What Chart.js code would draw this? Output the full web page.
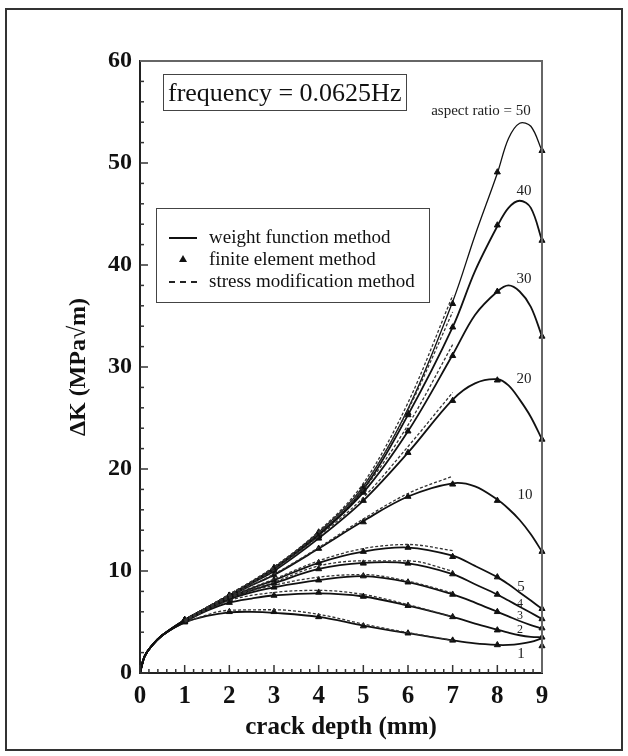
<!DOCTYPE html>
<html>
<head>
<meta charset="utf-8">
<script src="https://cdn.jsdelivr.net/npm/chart.js@4.4.1/dist/chart.umd.min.js"></script>
<style>
html, body { margin: 0; padding: 0; background: #fff; }
#wrap { position: relative; width: 628px; height: 756px; overflow: hidden; }
#frame { position: absolute; left: 5px; top: 8px; width: 614px; height: 739px; border: 2px solid #333; }
#chart { position: absolute; left: 0; top: 0; }
.serif { font-family: 'Liberation Serif', 'Times New Roman', serif; color: #111; }
#freq { position: absolute; left: 163px; top: 74px; width: 238px; height: 35px; border: 1.5px solid #444;
        font-size: 26px; line-height: 35px; padding-left: 4px; white-space: nowrap; }
#legend { position: absolute; left: 156px; top: 208px; width: 272px; height: 93px; border: 1.5px solid #444; }
.row { position: absolute; left: 0; height: 20px; font-size: 19px; line-height: 20px; white-space: nowrap; }
.row span.txt { position: absolute; left: 52px; top: 0; }
.solid { position: absolute; left: 12px; top: 10px; width: 28px; border-top: 2px solid #111; }
.dash { position: absolute; left: 12px; top: 10px; width: 28px; border-top: 2px dashed #222; }
.tri { position: absolute; left: 22px; top: 6px; width: 0; height: 0;
       border-left: 4px solid transparent; border-right: 4px solid transparent; border-bottom: 7px solid #111; }
.ann { position: absolute; transform: translate(-50%, -50%); white-space: nowrap; color: #222; }
</style>
</head>
<body>
<div id="wrap">
  <canvas id="chart" width="628" height="756"></canvas>
  <div id="frame"></div>
  <div id="freq" class="serif">frequency = 0.0625Hz</div>
  <div id="legend" class="serif">
    <div class="row" style="top:18px"><div class="solid"></div><span class="txt">weight function method</span></div>
    <div class="row" style="top:40px"><div class="tri"></div><span class="txt">finite element method</span></div>
    <div class="row" style="top:62px"><div class="dash"></div><span class="txt">stress modification method</span></div>
  </div>
  <div class="ann serif" style="left:481px; top:110px; font-size:15px">aspect ratio = 50</div>
  <div class="ann serif" style="left:524px; top:190px; font-size:15px">40</div>
  <div class="ann serif" style="left:524px; top:278px; font-size:15px">30</div>
  <div class="ann serif" style="left:524px; top:378px; font-size:15px">20</div>
  <div class="ann serif" style="left:525px; top:494px; font-size:15px">10</div>
  <div class="ann serif" style="left:521px; top:586px; font-size:15px">5</div>
  <div class="ann serif" style="left:520px; top:603px; font-size:12px">4</div>
  <div class="ann serif" style="left:520px; top:615px; font-size:12px">3</div>
  <div class="ann serif" style="left:520px; top:629px; font-size:12px">2</div>
  <div class="ann serif" style="left:521px; top:653px; font-size:15px">1</div>
</div>
<script>
// aspect ratios of the cracks
var aspectRatios = [1, 2, 3, 4, 5, 10, 20, 30, 40, 50];

// weight function method (solid curves)
var depthWF = [0, 0.1, 0.25, 0.5, 1, 1.5, 2, 2.5, 3, 4, 5, 6, 7, 7.5, 8, 8.25, 8.5, 8.75, 9];
var wf1  = [0, 1.6, 2.6, 3.7, 4.95, 5.6, 5.95, 6.0, 5.9, 5.5, 4.65, 3.9, 3.2, 2.9, 2.75, 2.75, 2.85, 3.05, 3.4];
var wf2  = [0, 1.6, 2.6, 3.7, 5.0, 6.1, 6.9, 7.3, 7.6, 7.8, 7.5, 6.6, 5.5, 4.85, 4.25, 3.95, 3.7, 3.55, 3.5];
var wf3  = [0, 1.6, 2.6, 3.7, 5.05, 6.2, 7.2, 7.9, 8.4, 9.1, 9.5, 8.9, 7.7, 6.9, 6.0, 5.55, 5.1, 4.7, 4.35];
var wf4  = [0, 1.6, 2.6, 3.7, 5.1, 6.3, 7.3, 8.1, 8.8, 10.2, 10.8, 10.75, 9.7, 8.7, 7.7, 7.1, 6.5, 5.9, 5.3];
var wf5  = [0, 1.6, 2.6, 3.7, 5.1, 6.3, 7.4, 8.3, 9.1, 10.8, 11.9, 12.3, 11.5, 10.5, 9.4, 8.7, 7.9, 7.1, 6.3];
var wf10 = [0, 1.6, 2.6, 3.7, 5.15, 6.35, 7.5, 8.6, 9.6, 12.2, 14.9, 17.3, 18.6, 18.3, 17.0, 16.1, 15.0, 13.6, 11.9];
var wf20 = [0, 1.6, 2.6, 3.7, 5.2, 6.4, 7.6, 8.8, 10.0, 13.2, 16.9, 21.6, 26.8, 28.4, 28.8, 28.2, 26.8, 25.1, 22.9];
var wf30 = [0, 1.6, 2.6, 3.7, 5.2, 6.4, 7.6, 8.9, 10.2, 13.5, 17.7, 23.7, 31.2, 35.1, 37.4, 38.0, 37.4, 35.9, 33.0];
var wf40 = [0, 1.6, 2.6, 3.7, 5.2, 6.4, 7.6, 8.9, 10.3, 13.6, 18.0, 25.3, 33.9, 39.4, 43.8, 45.6, 46.3, 45.6, 42.4];
var wf50 = [0, 1.6, 2.6, 3.7, 5.2, 6.4, 7.6, 8.9, 10.3, 13.8, 18.3, 25.9, 36.4, 42.9, 49.0, 52.4, 53.9, 53.6, 51.2];

// finite element method (triangles)
var depthFE = [1, 2, 3, 4, 5, 6, 7, 8, 9];
var fe1  = [5.0, 6.0, 6.0, 5.5, 4.6, 3.9, 3.2, 2.75, 2.65];
var fe2  = [5.0, 6.9, 7.6, 7.9, 7.5, 6.6, 5.5, 4.2, 3.5];
var fe3  = [5.05, 7.2, 8.4, 9.1, 9.5, 8.9, 7.7, 6.0, 4.4];
var fe4  = [5.1, 7.3, 8.8, 10.2, 10.75, 10.75, 9.7, 7.7, 5.3];
var fe5  = [5.1, 7.4, 9.1, 10.8, 11.9, 12.3, 11.4, 9.4, 6.3];
var fe10 = [5.15, 7.5, 9.6, 12.2, 14.8, 17.3, 18.5, 16.9, 11.9];
var fe20 = [5.2, 7.6, 10.0, 13.2, 16.9, 21.6, 26.7, 28.7, 22.9];
var fe30 = [5.2, 7.6, 10.2, 13.4, 17.7, 23.7, 31.1, 37.4, 33.0];
var fe40 = [5.2, 7.6, 10.3, 13.6, 18.0, 25.3, 33.9, 43.9, 42.4];
var fe50 = [5.2, 7.6, 10.3, 13.8, 18.2, 25.5, 36.2, 49.1, 51.2];

// stress modification method (dashed)
var depthSM = [1, 2, 3, 4, 5, 6, 7];
var sm1  = [5.0, 6.15, 6.2, 5.75, 4.8, 3.95, 3.2];
var sm2  = [5.1, 7.1, 7.9, 8.1, 7.7, 6.7, 5.5];
var sm3  = [5.1, 7.35, 8.6, 9.4, 9.65, 9.0, 7.85];
var sm4  = [5.1, 7.4, 8.9, 10.5, 11.0, 11.0, 10.0];
var sm5  = [5.2, 7.5, 9.2, 11.0, 12.2, 12.6, 12.0];
var sm10 = [5.2, 7.6, 9.7, 12.3, 15.1, 17.6, 19.3];
var sm20 = [5.2, 7.7, 10.1, 13.4, 17.2, 22.2, 27.5];
var sm30 = [5.2, 7.7, 10.3, 13.7, 18.0, 24.3, 32.2];
var sm40 = [5.2, 7.7, 10.4, 13.8, 18.3, 25.8, 35.4];
var sm50 = [5.2, 7.7, 10.4, 13.9, 18.6, 26.5, 37.0];

var wfSeries = [wf1, wf2, wf3, wf4, wf5, wf10, wf20, wf30, wf40, wf50];
var feSeries = [fe1, fe2, fe3, fe4, fe5, fe10, fe20, fe30, fe40, fe50];
var smSeries = [sm1, sm2, sm3, sm4, sm5, sm10, sm20, sm30, sm40, sm50];

function toPoints(xs, ys) {
    return xs.map(function (x, i) { return { x: x, y: ys[i] }; });
}

var datasets = [];
for (var i = 0; i < aspectRatios.length; i++) {
    datasets.push({
        label: 'dashed ' + aspectRatios[i],
        data: toPoints(depthSM, smSeries[i]),
        borderColor: '#333',
        borderWidth: 1.3,
        borderDash: [3, 2],
        pointRadius: 0,
        cubicInterpolationMode: 'monotone',
        fill: false
    });
}
for (var i = 0; i < aspectRatios.length; i++) {
    datasets.push({
        label: 'weight ' + aspectRatios[i],
        data: toPoints(depthWF, wfSeries[i]),
        borderColor: '#111',
        borderWidth: aspectRatios[i] == 50 ? 1.3 : 1.8,
        pointRadius: 0,
        tension: 0.35,
        fill: false
    });
}
for (var i = 0; i < aspectRatios.length; i++) {
    datasets.push({
        label: 'fem ' + aspectRatios[i],
        data: toPoints(depthFE, feSeries[i]),
        showLine: false,
        pointStyle: 'triangle',
        pointRadius: 3.5,
        pointBackgroundColor: '#111',
        pointBorderColor: '#111',
        pointBorderWidth: 1,
        clip: false
    });
}

// ticks pointing into the plot plus the top/right frame
var innerTicks = {
    id: 'innerTicks',
    afterDatasetsDraw: function (chart) {
        var ctx = chart.ctx, a = chart.chartArea;
        var xs = chart.scales.x, ys = chart.scales.y;
        ctx.save();
        ctx.strokeStyle = '#333';
        ctx.lineWidth = 1.5;
        for (var v = 0; v <= 60; v += 2) {
            var py = ys.getPixelForValue(v);
            var len = v % 10 === 0 ? 8 : 4;
            ctx.beginPath(); ctx.moveTo(a.left, py); ctx.lineTo(a.left + len, py); ctx.stroke();
        }
        for (var k = 0; k <= 45; k++) {
            var px = xs.getPixelForValue(k / 5);
            var l2 = k % 5 === 0 ? 8 : 4;
            ctx.beginPath(); ctx.moveTo(px, a.bottom); ctx.lineTo(px, a.bottom - l2); ctx.stroke();
        }
        ctx.strokeStyle = '#666';
        ctx.lineWidth = 2;
        ctx.beginPath();
        ctx.moveTo(a.left, a.top); ctx.lineTo(a.right, a.top); ctx.lineTo(a.right, a.bottom);
        ctx.stroke();
        ctx.restore();
    }
};

var ctx = document.getElementById('chart').getContext('2d');
new Chart(ctx, {
    type: 'line',
    data: { datasets: datasets },
    options: {
        responsive: false,
        animation: false,
        layout: { padding: { left: 40, right: 86, top: 61, bottom: 13 } },
        plugins: { legend: { display: false }, tooltip: { enabled: false } },
        scales: {
            x: {
                type: 'linear',
                min: 0,
                max: 9,
                afterFit: function (scale) { scale.height = 70; },
                grid: { display: false, drawTicks: false },
                border: { display: true, color: '#222', width: 2 },
                ticks: {
                    stepSize: 1,
                    padding: 9,
                    color: '#111',
                    font: { family: "'Liberation Serif', serif", size: 25, weight: 'bold' }
                },
                title: {
                    display: true,
                    text: 'crack depth (mm)',
                    color: '#111',
                    padding: { top: 0, bottom: 0 },
                    font: { family: "'Liberation Serif', serif", size: 25, weight: 'bold' }
                }
            },
            y: {
                type: 'linear',
                min: 0,
                max: 60,
                afterFit: function (scale) { scale.width = 100; },
                grid: { display: false, drawTicks: false },
                border: { display: true, color: '#222', width: 2 },
                ticks: {
                    stepSize: 10,
                    padding: 8,
                    color: '#111',
                    font: { family: "'Liberation Serif', serif", size: 24, weight: 'bold' }
                },
                title: {
                    display: true,
                    text: 'ΔK (MPa√m)',
                    color: '#111',
                    padding: { top: 24, bottom: 0 },
                    font: { family: "'Liberation Serif', serif", size: 24, weight: 'bold' }
                }
            }
        }
    },
    plugins: [innerTicks]
});
</script>
</body>
</html>
